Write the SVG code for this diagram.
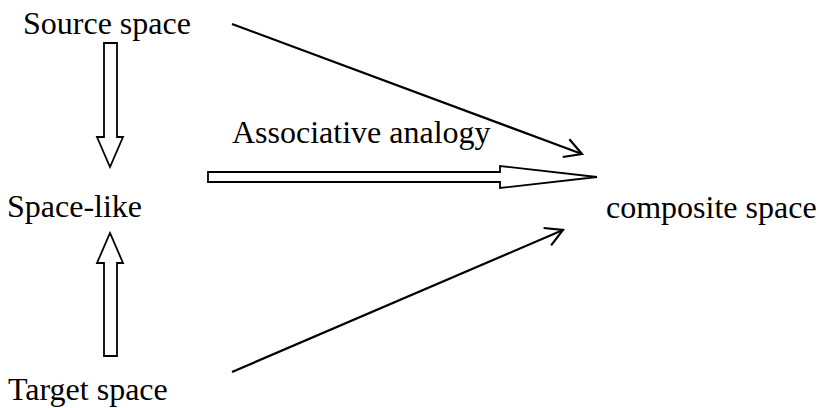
<svg xmlns="http://www.w3.org/2000/svg" width="819" height="408" viewBox="0 0 819 408">
<style>
.t{font-family:'Liberation Serif','Tinos','DejaVu Serif',serif;font-size:32px;fill:#000}
.blk{fill:#fff;stroke:#000;stroke-width:1.8;stroke-linejoin:miter}
.ln{fill:none;stroke:#000;stroke-width:2.2}
</style>
<defs>
<marker id="open" markerUnits="userSpaceOnUse" markerWidth="30" markerHeight="30" viewBox="-25 -15 30 30" refX="0" refY="0" orient="auto">
<path d="M-17,-9.5 L0,0 L-17,9.5" fill="none" stroke="#000" stroke-width="2.2"/>
</marker>
</defs>
<rect width="819" height="408" fill="#fff"/>
<g id="source"><text class="t" x="23" y="34">Source space</text></g>
<g id="spacelike"><text class="t" x="7" y="217">Space-like</text></g>
<g id="target"><text class="t" x="8" y="400">Target space</text></g>
<g id="composite"><text class="t" x="606" y="218">composite space</text></g>
<g id="label"><text class="t" x="232" y="143">Associative analogy</text></g>
<g id="connectors">
<path class="blk" d="M104,43 L117,43 L117,137 L123,137 L110,167 L97,137 L104,137 Z"/>
<path class="blk" d="M104,356 L117,356 L117,263 L123,263 L110,233 L97,263 L104,263 Z"/>
<path class="blk" d="M208,172 L500,172 L500,166 L597,177 L500,188 L500,182 L208,182 Z"/>
<line class="ln" x1="232" y1="24" x2="582" y2="154" marker-end="url(#open)"/>
<line class="ln" x1="232" y1="372" x2="563" y2="230" marker-end="url(#open)"/>
</g>
</svg>
